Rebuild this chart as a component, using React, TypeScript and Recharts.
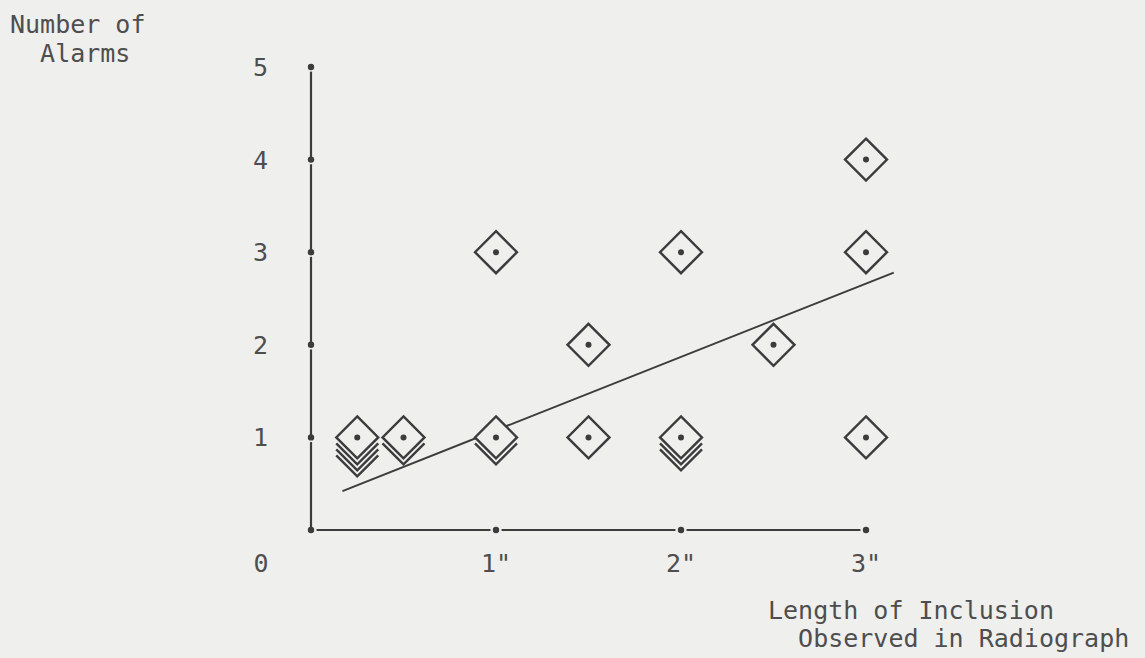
import React from 'react';
import {
  ComposedChart,
  Scatter,
  XAxis,
  YAxis,
  ReferenceLine,
  ReferenceDot,
} from 'recharts';

// inclusion length (inches) vs number of alarms
const lengths = [0.25, 0.5, 1, 1, 1.5, 1.5, 2, 2, 2.5, 3, 3, 3];
const alarms = [1, 1, 3, 1, 2, 1, 3, 1, 2, 4, 3, 1];
const repeats = [4, 2, 1, 2, 1, 1, 1, 3, 1, 1, 1, 1];

// fitted line end points
const trendX = [0.17, 3.15];
const trendY = [0.42, 2.78];

const xTicks = [0, 1, 2, 3];
const yTicks = [1, 2, 3, 4, 5];

const INK = '#3c3c3c';
const TEXT = '#4e4e4e';
const FONT = '"DejaVu Sans Mono", "Liberation Mono", monospace';

const points = lengths.map((x, i) => ({ x, y: alarms[i], n: repeats[i] }));
const trend = trendX.map((x, i) => ({ x, y: trendY[i] }));

const Diamond = (props: any) => {
  const { cx, cy, payload } = props;
  const r = 21;
  const stack = [];
  for (let k = payload.n - 1; k >= 1; k--) {
    const dy = k * 6;
    stack.push(
      <polyline
        key={k}
        points={`${cx - r},${cy + dy} ${cx},${cy + r + dy} ${cx + r},${cy + dy}`}
        fill="none"
        stroke={INK}
        strokeWidth={2.4}
      />,
    );
  }
  return (
    <g>
      {stack}
      <polygon
        points={`${cx},${cy - r} ${cx + r},${cy} ${cx},${cy + r} ${cx - r},${cy}`}
        fill={payload.n > 1 ? '#efefed' : 'none'}
        stroke={INK}
        strokeWidth={2.4}
      />
      <circle cx={cx} cy={cy} r={3} fill={INK} />
    </g>
  );
};

const XTick = (props: any) => {
  const { x, y, payload } = props;
  const v = payload.value;
  return (
    <text
      x={v === 0 ? x - 50 : x}
      y={y}
      dy="0.71em"
      textAnchor="middle"
      fill={TEXT}
      fontSize={25}
      fontFamily={FONT}
    >
      {v === 0 ? '0' : `${v}"`}
    </text>
  );
};

const YTick = (props: any) => {
  const { x, y, payload } = props;
  return (
    <text
      x={x}
      y={y}
      dy="0.36em"
      textAnchor="end"
      fill={TEXT}
      fontSize={25}
      fontFamily={FONT}
    >
      {payload.value}
    </text>
  );
};

export default function App() {
  return (
    <div
      style={{
        position: 'absolute',
        left: 0,
        top: 0,
        width: 1145,
        height: 658,
        background: '#efefed',
        fontFamily: FONT,
        color: TEXT,
      }}
    >
      <div style={{ position: 'absolute', left: 10, top: 10, fontSize: 25, lineHeight: '29px' }}>
        Number of
        <br />
        &nbsp;&nbsp;Alarms
      </div>
      <div style={{ position: 'absolute', left: 768, top: 597, fontSize: 25, lineHeight: '28px', whiteSpace: 'pre' }}>
        {'Length of Inclusion\n  Observed in Radiograph'}
      </div>
      <ComposedChart
        width={1145}
        height={658}
        margin={{ top: 67, right: 242, bottom: 88, left: 251 }}
        style={{ position: 'absolute', left: 0, top: 0 }}
      >
        <XAxis
          type="number"
          dataKey="x"
          domain={[0, 3.2]}
          ticks={xTicks}
          axisLine={false}
          tickLine={false}
          tickMargin={18}
          height={40}
          tick={<XTick />}
          interval={0}
        />
        <YAxis
          type="number"
          dataKey="y"
          domain={[0, 5]}
          ticks={yTicks}
          axisLine={false}
          tickLine={false}
          tickMargin={37}
          width={60}
          tick={<YTick />}
          interval={0}
        />
        {yTicks.map((t) => (
          <ReferenceLine
            key={`ys${t}`}
            segment={[
              { x: 0, y: t - 1 },
              { x: 0, y: t - 0.05 },
            ]}
            stroke={INK}
            strokeWidth={2.2}
          />
        ))}
        {xTicks.slice(1).map((t) => (
          <ReferenceLine
            key={`xs${t}`}
            segment={[
              { x: t - 0.97, y: 0 },
              { x: t - 0.03, y: 0 },
            ]}
            stroke={INK}
            strokeWidth={2.2}
          />
        ))}
        {yTicks.map((t) => (
          <ReferenceDot key={`yd${t}`} x={0} y={t} r={3.2} fill={INK} stroke="none" />
        ))}
        {xTicks.map((t) => (
          <ReferenceDot key={`xd${t}`} x={t} y={0} r={3.2} fill={INK} stroke="none" />
        ))}
        <Scatter
          data={trend}
          line={{ stroke: INK, strokeWidth: 2 }}
          shape={() => <g />}
          isAnimationActive={false}
        />
        <Scatter data={points} shape={<Diamond />} isAnimationActive={false} />
      </ComposedChart>
    </div>
  );
}
